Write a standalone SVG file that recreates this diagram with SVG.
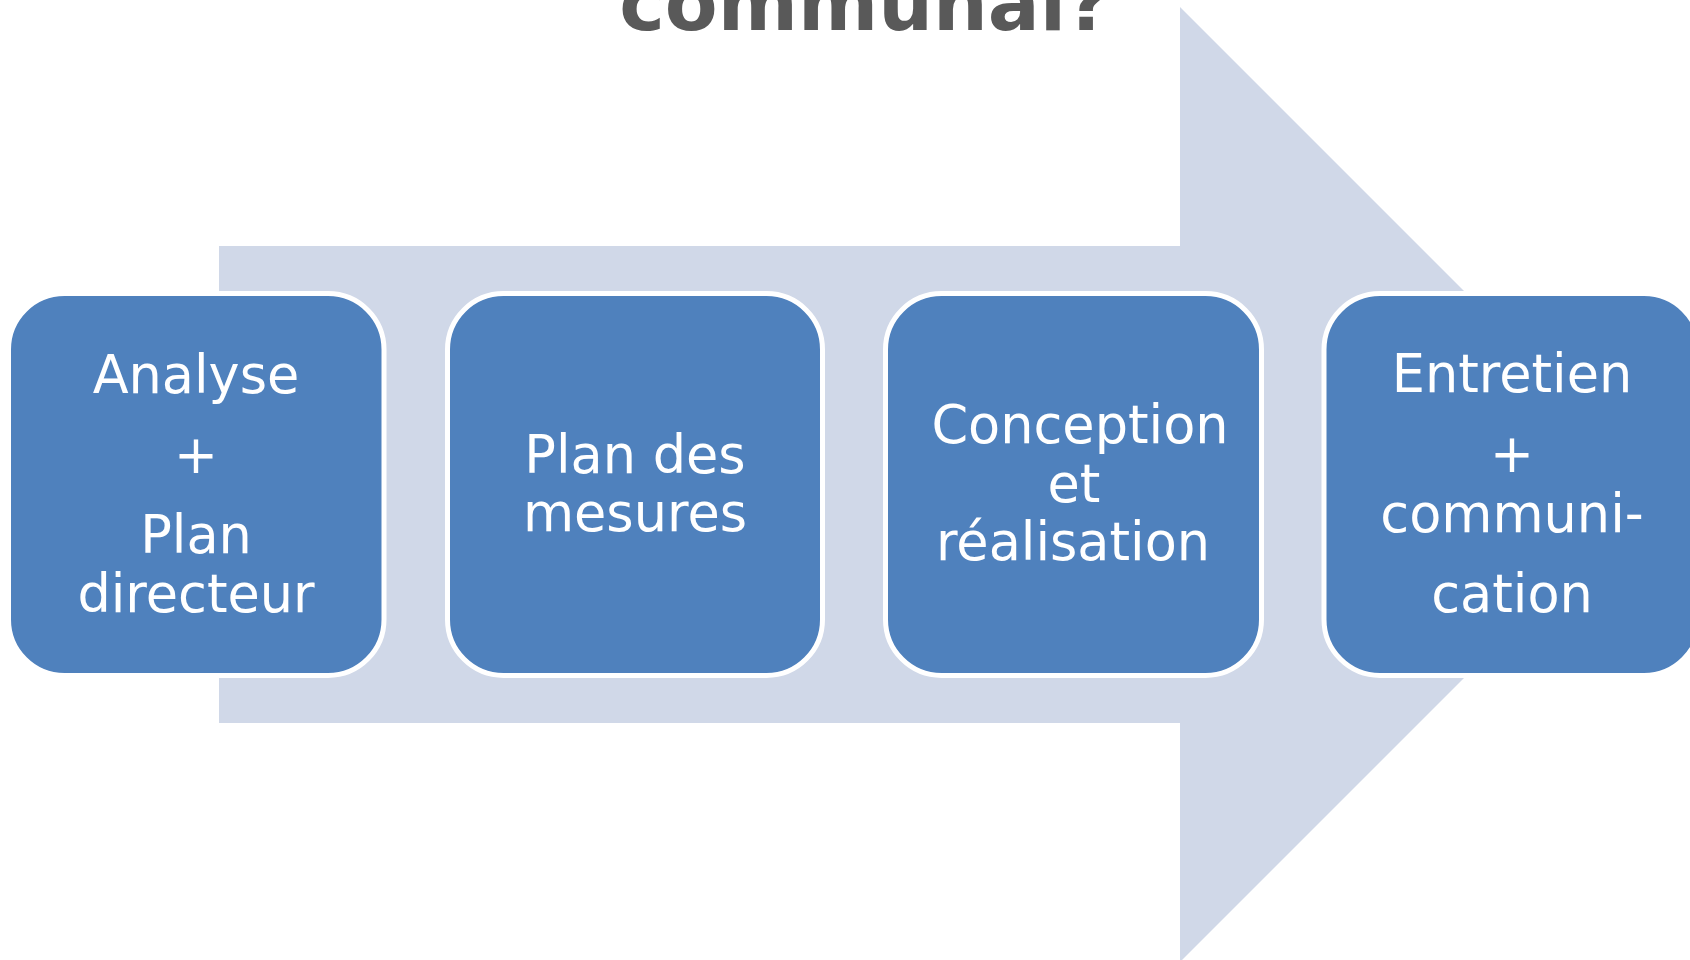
<svg xmlns="http://www.w3.org/2000/svg" width="1690" height="960" viewBox="0 0 1690 960">
<style>
.box{fill:#4f81bd;stroke:#ffffff;stroke-width:5}
.lbl{font-family:"DejaVu Sans","Verdana",sans-serif;font-size:52.5px;fill:#ffffff;text-anchor:middle}
.title{font-family:"DejaVu Sans","Verdana",sans-serif;font-weight:bold;font-size:77px;fill:#595959;text-anchor:middle}
</style>
<rect x="0" y="0" width="1690" height="960" fill="#ffffff"/>
<text class="title" x="865" y="30">communal?</text>
<g id="connectors">
<polygon points="219,246 1180,246 1180,7 1657.5,484.5 1180,962 1180,723 219,723" fill="#d0d8e8"/>
</g>
<g id="node1">
<rect class="box" x="8.5" y="293.5" width="375.5" height="382" rx="56" ry="56"/>
<text class="lbl" x="196" y="393">Analyse</text>
<text class="lbl" x="196" y="473">+</text>
<text class="lbl" x="196" y="553">Plan</text>
<text class="lbl" x="196" y="612">directeur</text>
</g>
<g id="node2">
<rect class="box" x="447.5" y="293.5" width="375" height="382" rx="56" ry="56"/>
<text class="lbl" x="635" y="473">Plan des</text>
<text class="lbl" x="635" y="531">mesures</text>
</g>
<g id="node3">
<rect class="box" x="885.5" y="293.5" width="376" height="382" rx="56" ry="56"/>
<text class="lbl" x="1080" y="443">Conception</text>
<text class="lbl" x="1074" y="502">et</text>
<text class="lbl" x="1073" y="560">réalisation</text>
</g>
<g id="node4">
<rect class="box" x="1324" y="293.5" width="376" height="382" rx="56" ry="56"/>
<text class="lbl" x="1512" y="392">Entretien</text>
<text class="lbl" x="1512" y="472">+</text>
<text class="lbl" x="1512" y="532">communi-</text>
<text class="lbl" x="1512" y="612">cation</text>
</g>
</svg>
